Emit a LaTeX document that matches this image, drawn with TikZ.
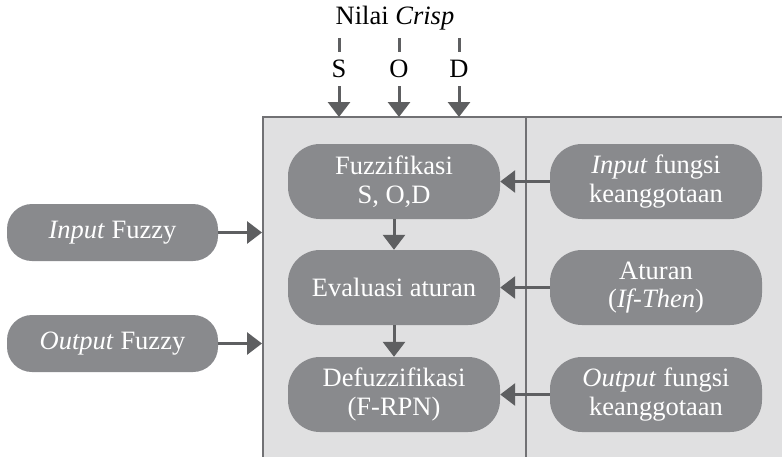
\documentclass[tikz,border=0pt]{standalone}
\usepackage{fontspec}
\setmainfont{Liberation Serif}
\usetikzlibrary{arrows.meta}
\definecolor{panelfill}{HTML}{E0E0E1}
\definecolor{paneledge}{HTML}{717174}
\definecolor{boxfill}{HTML}{898A8D}
\definecolor{arrowgray}{HTML}{5E5F61}
\tikzset{
  procbox/.style={rectangle, rounded corners=32pt, fill=boxfill, text=white,
    minimum width=212pt, minimum height=75pt, align=center, inner sep=0pt,
    font=\fontsize{26.5}{28.5}\selectfont},
  sidebox/.style={procbox, rounded corners=25pt, minimum width=211pt, minimum height=57pt},
  flow/.style={draw=arrowgray, line width=3pt, -{Triangle[width=22pt,length=15pt]}},
  feed/.style={draw=arrowgray, line width=3pt},
  toplabel/.style={font=\fontsize{26.5}{28.5}\selectfont, inner sep=0pt},
}
\begin{document}
\begin{tikzpicture}[x=1pt, y=-1pt]
  \useasboundingbox (0,0) rectangle (782,456);
  \clip (0,0) rectangle (782,456);
  % the inference panel, running off the right and bottom edges
  \draw[fill=panelfill, draw=paneledge, line width=2pt] (263,117) rectangle (800,480);
  \draw[draw=paneledge, line width=2pt] (526,117) -- (526,480);

  % crisp inputs
  \node[toplabel] (crisp) at (395,18) {Nilai \textit{Crisp}};
  \node[toplabel, minimum height=34pt] (s) at (339,69) {S};
  \node[toplabel, minimum height=34pt] (o) at (399,69) {O};
  \node[toplabel, minimum height=34pt] (d) at (459,69) {D};
  \coordinate (s0) at (339,38); \coordinate (s1) at (339,117);
  \coordinate (o0) at (399,38); \coordinate (o1) at (399,117);
  \coordinate (d0) at (459,38); \coordinate (d1) at (459,117);
  \draw[feed] (s0) -- (s.north);
  \draw[feed] (o0) -- (o.north);
  \draw[feed] (d0) -- (d.north);
  \draw[flow] (s.south) -- (s1);
  \draw[flow] (o.south) -- (o1);
  \draw[flow] (d.south) -- (d1);

  % process chain
  \node[procbox] (fuzz) at (394,181.5) {Fuzzifikasi\\S, O,D};
  \node[procbox] (eval) at (394,287.5) {Evaluasi aturan};
  \node[procbox] (defz) at (394,394.5) {Defuzzifikasi\\(F-RPN)};
  \draw[flow] (fuzz.south) -- (eval.north);
  \draw[flow] (eval.south) -- (defz.north);

  % knowledge base
  \node[procbox] (inmf) at (656,181.5) {\textit{Input} fungsi\\keanggotaan};
  \node[procbox] (rules) at (656,287.5) {Aturan\\(\textit{If-Then})};
  \node[procbox] (outmf) at (656,394.5) {\textit{Output} fungsi\\keanggotaan};
  \draw[flow] (inmf.west) -- (fuzz.east);
  \draw[flow] (rules.west) -- (eval.east);
  \draw[flow] (outmf.west) -- (defz.east);

  % fuzzy sets entering the panel
  \node[sidebox] (infz) at (112.5,232.5) {\textit{Input} Fuzzy};
  \node[sidebox] (outfz) at (112.5,343.5) {\textit{Output} Fuzzy};
  \coordinate (pin) at (262,232.5);
  \coordinate (pout) at (262,343.5);
  \draw[flow] (infz.east) -- (pin);
  \draw[flow] (outfz.east) -- (pout);
\end{tikzpicture}
\end{document}
